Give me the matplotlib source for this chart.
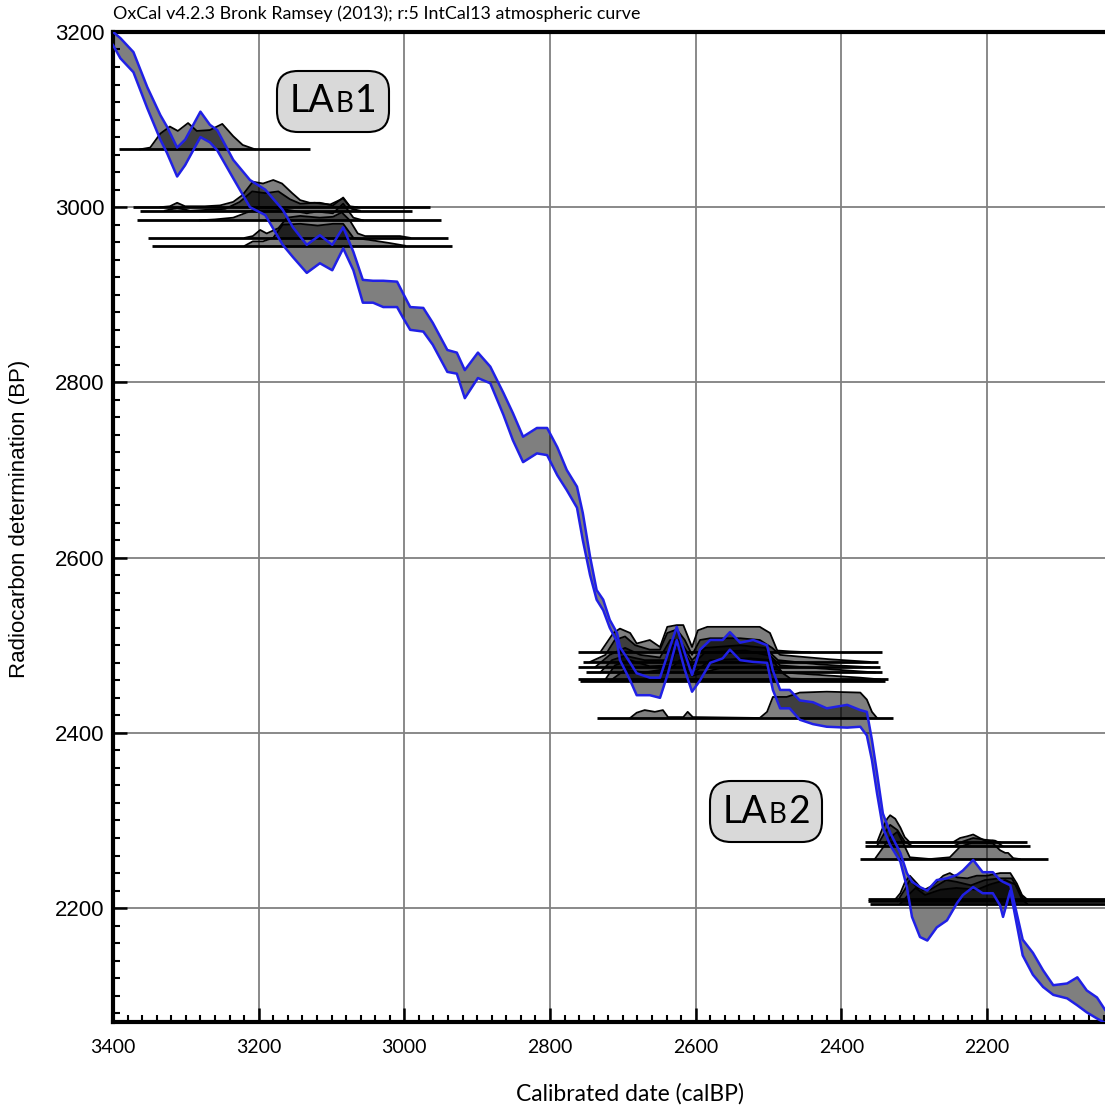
import numpy as np
import matplotlib
matplotlib.use("Agg")
from matplotlib import pyplot as plt
from matplotlib.ticker import MultipleLocator
from matplotlib.offsetbox import TextArea, HPacker, AnnotationBbox

# IntCal13 band: calBP vs upper / lower radiocarbon edge (BP)
cal_bp = [3400, 3390, 3372, 3353, 3335, 3326, 3312, 3301, 3280, 3267,
          3257, 3235, 3212, 3191, 3167, 3153, 3134, 3116, 3099, 3084,
          3070, 3057, 3043, 3029, 3010, 3002, 2992, 2974, 2961, 2941,
          2928, 2917, 2899, 2882, 2864, 2851, 2837, 2818, 2804, 2790,
          2777, 2763, 2755, 2745, 2736, 2727, 2718, 2708, 2704, 2690,
          2681, 2663, 2649, 2638, 2626, 2615, 2605, 2594, 2580, 2563,
          2553, 2539, 2521, 2502, 2494, 2484, 2471, 2457, 2439, 2420,
          2392, 2374, 2365, 2358, 2351, 2343, 2333, 2319, 2310, 2303,
          2292, 2282, 2269, 2255, 2241, 2233, 2219, 2206, 2192, 2182,
          2178, 2168, 2151, 2137, 2123, 2109, 2090, 2076, 2063, 2049, 2038]
c14_hi = [3200, 3193, 3177, 3137, 3105, 3092, 3068, 3077, 3109, 3094,
          3088, 3054, 3031, 3020, 2997, 2977, 2957, 2968, 2957, 2977,
          2949, 2917, 2916, 2916, 2915, 2902, 2886, 2885, 2868, 2837,
          2834, 2814, 2834, 2818, 2788, 2765, 2738, 2748, 2748, 2726,
          2700, 2681, 2651, 2601, 2563, 2552, 2529, 2514, 2498, 2480,
          2468, 2463, 2463, 2491, 2521, 2491, 2466, 2495, 2506, 2506,
          2515, 2503, 2506, 2500, 2471, 2449, 2449, 2437, 2435, 2428,
          2432, 2426, 2424, 2392, 2354, 2308, 2286, 2263, 2240, 2230,
          2224, 2220, 2232, 2234, 2238, 2243, 2255, 2241, 2241, 2232,
          2230, 2226, 2164, 2149, 2129, 2112, 2114, 2121, 2106, 2098, 2084]
c14_lo = [3185, 3170, 3154, 3113, 3077, 3062, 3035, 3048, 3080, 3074,
          3065, 3033, 3000, 2991, 2957, 2943, 2925, 2936, 2928, 2953,
          2928, 2891, 2891, 2886, 2886, 2874, 2860, 2858, 2843, 2812,
          2810, 2782, 2805, 2799, 2763, 2734, 2709, 2719, 2717, 2694,
          2677, 2657, 2620, 2580, 2552, 2540, 2520, 2504, 2483, 2460,
          2443, 2443, 2440, 2468, 2506, 2472, 2447, 2460, 2480, 2485,
          2495, 2483, 2481, 2480, 2449, 2428, 2428, 2415, 2410, 2407,
          2406, 2407, 2397, 2369, 2331, 2292, 2272, 2253, 2224, 2190,
          2167, 2163, 2178, 2186, 2206, 2215, 2224, 2217, 2217, 2203,
          2190, 2220, 2146, 2124, 2110, 2101, 2097, 2089, 2081, 2074, 2069]

# LAb1 dates: measured BP, baseline extent, calibrated density outline
lab1_base = [3066, 3000, 2996, 2985, 2965, 2956]
lab1_from = [3392, 3372, 3363, 3367, 3352, 3346]
lab1_to = [3130, 2965, 2990, 2950, 2940, 2935]
lab1_cal = [
    [3363, 3349, 3335, 3322, 3311, 3297, 3285, 3267, 3250, 3235, 3222, 3205],
    [3335, 3322, 3312, 3301, 3274, 3253, 3235, 3222, 3208, 3194, 3180, 3168,
     3154, 3143, 3130, 3116, 3098, 3084, 3075, 3065],
    [3329, 3312, 3294, 3246, 3226, 3209, 3191, 3173, 3157, 3143, 3123, 3102,
     3084, 3072, 3061],
    [3281, 3260, 3235, 3216, 3198, 3178, 3153, 3134, 3120, 3098, 3084, 3070,
     3057],
    [3219, 3208, 3198, 3189, 3173, 3161, 3143, 3116, 3098, 3086, 3075, 3064,
     3054, 3006, 2992],
    [3219, 3208, 3194, 3180, 3167, 3143, 3119, 3098, 3084, 3070, 3051, 3020,
     2999],
]
lab1_h = [
    [0, 2, 18, 26, 21, 30, 21, 22, 29, 15, 5, 0],
    [0, 1, 5, 1, 1, 2, 6, 14, 29, 27, 31, 27, 16, 8, 5, 5, 2, 11, 1, 0],
    [0, 3, 0, 2, 10, 22, 20, 22, 13, 8, 9, 7, 14, 2, 0],
    [0, 1, 3, 9, 15, 14, 11, 8, 10, 8, 19, 3, 0],
    [0, 2, 9, 5, 11, 23, 25, 23, 24, 29, 20, 5, 2, 2, 0],
    [0, 5, 5, 9, 24, 25, 23, 25, 25, 9, 7, 3, 0],
]

# LAb2 dates on the Hallstatt plateau
lab2_base = [2492, 2481, 2475, 2469, 2461, 2459, 2417]
lab2_from = [2762, 2755, 2762, 2751, 2762, 2759, 2736]
lab2_to = [2344, 2350, 2347, 2344, 2336, 2340, 2329]
lab2_cal = [
    [2731, 2713, 2704, 2690, 2681, 2663, 2649, 2639, 2626, 2617, 2605, 2597,
     2584, 2539, 2512, 2498, 2488, 2471, 2443],
    [2745, 2724, 2711, 2697, 2683, 2663, 2649, 2639, 2626, 2615, 2605, 2594,
     2580, 2539, 2512, 2495, 2484, 2457, 2416, 2361],
    [2738, 2718, 2697, 2676, 2649, 2635, 2622, 2605, 2587, 2539, 2505, 2487,
     2429, 2361],
    [2731, 2715, 2697, 2670, 2642, 2633, 2619, 2605, 2587, 2532, 2498, 2484,
     2388, 2354],
    [2724, 2711, 2690, 2663, 2635, 2627, 2613, 2602, 2580, 2525, 2495, 2481,
     2374, 2347],
    [2718, 2697, 2670, 2633, 2622, 2605, 2567, 2512, 2487, 2470, 2347],
    [2690, 2681, 2670, 2656, 2645, 2638, 2617, 2611, 2604, 2512, 2502, 2494,
     2475, 2457, 2420, 2374, 2365, 2358, 2351],
]
lab2_h = [
    [0, 22, 27, 22, 10, 14, 6, 29, 31, 31, 6, 25, 29, 29, 29, 22, 2, 1, 0],
    [0, 8, 25, 29, 19, 14, 14, 33, 37, 25, 8, 25, 27, 27, 25, 16, 8, 6, 3, 0],
    [0, 14, 22, 14, 11, 31, 31, 8, 22, 25, 22, 8, 3, 0],
    [0, 14, 19, 14, 14, 31, 27, 8, 23, 25, 19, 8, 2, 0],
    [0, 16, 22, 15, 16, 33, 27, 8, 22, 24, 22, 8, 2, 0],
    [0, 13, 10, 15, 24, 6, 15, 17, 13, 3, 0],
    [0, 6, 9, 7, 9, 1, 1, 7, 1, 0, 7, 24, 24, 29, 30, 29, 21, 7, 0],
]

# later dates near 2300-2150 calBP
lab3_base = [2275, 2271, 2256, 2210, 2208, 2205]
lab3_from = [2368, 2368, 2374, 2363, 2363, 2361]
lab3_to = [2145, 2141, 2116, 2000, 2000, 2000]
lab3_cal = [
    [2351, 2344, 2337, 2333, 2326, 2319, 2313, 2306, 2247, 2237, 2227, 2219,
     2210, 2200, 2192, 2182],
    [2351, 2342, 2333, 2323, 2313, 2303, 2245, 2233, 2219, 2203, 2189, 2179],
    [2354, 2342, 2333, 2323, 2315, 2306, 2278, 2251, 2237, 2219, 2192, 2182,
     2175, 2171, 2164, 2155],
    [2326, 2319, 2313, 2306, 2296, 2288, 2274, 2260, 2251, 2241, 2227, 2214,
     2200, 2182, 2168, 2159, 2152, 2145],
    [2323, 2313, 2306, 2295, 2278, 2256, 2242, 2222, 2203, 2182, 2166, 2155,
     2148],
    [2319, 2308, 2298, 2285, 2264, 2242, 2214, 2196, 2175, 2161, 2152, 2145],
]
lab3_h = [
    [0, 15, 27, 31, 27, 17, 6, 0, 0, 5, 7, 9, 5, 1, 2, 0],
    [0, 13, 24, 18, 5, 0, 0, 5, 9, 7, 6, 0],
    [0, 14, 25, 31, 18, 2, 0, 2, 14, 19, 18, 10, 7, 7, 1, 0],
    [0, 7, 19, 27, 18, 10, 16, 27, 30, 25, 24, 27, 27, 30, 30, 18, 5, 0],
    [0, 13, 24, 15, 13, 24, 22, 18, 24, 26, 26, 10, 0],
    [0, 10, 18, 10, 16, 18, 16, 22, 27, 22, 5, 0],
]

title = "OxCal v4.2.3 Bronk Ramsey (2013); r:5 IntCal13 atmospheric curve"
cal_font = "Lato"

fig = plt.figure(figsize=(11.05, 11.05), dpi=100)
ax = fig.add_axes([0.1023, 0.0751, 0.8977, 0.896])

ax.fill_between(cal_bp, c14_lo, c14_hi, color="k", alpha=0.5, lw=0, zorder=2)

for bases, x0s, x1s, xss, hss in [(lab1_base, lab1_from, lab1_to, lab1_cal, lab1_h),
                                  (lab2_base, lab2_from, lab2_to, lab2_cal, lab2_h),
                                  (lab3_base, lab3_from, lab3_to, lab3_cal, lab3_h)]:
    for base, x0, x1, xs, hs in zip(bases, x0s, x1s, xss, hss):
        top = base + np.array(hs)
        ax.fill_between(xs, base, top, color="k", alpha=0.5, lw=0, zorder=3)
        ax.plot(xs, top, color="k", lw=1.3, zorder=4, solid_joinstyle="round")
        ax.plot([x0, x1], [base, base], color="k", lw=2, zorder=4,
                solid_capstyle="butt")

ax.plot(cal_bp, c14_hi, color="#2020e6", lw=1.8, zorder=5, solid_joinstyle="round")
ax.plot(cal_bp, c14_lo, color="#2020e6", lw=1.8, zorder=5, solid_joinstyle="round")


def lab_box(num, x, y):
    parts = [TextArea("LA", textprops=dict(fontsize=27, family=cal_font)),
             TextArea("B", textprops=dict(fontsize=20, family=cal_font)),
             TextArea(num, textprops=dict(fontsize=27, family=cal_font))]
    pack = HPacker(children=parts, align="baseline", pad=0, sep=1)
    ab = AnnotationBbox(pack, (x, y), xycoords="data", frameon=True,
                        bboxprops=dict(boxstyle="round,pad=0.9,rounding_size=1.5",
                                       fc="#d9d9d9", ec="k", lw=1.5),
                        zorder=6)
    ax.add_artist(ab)


lab_box("1", 3098, 3121)
lab_box("2", 2503, 2310)

ax.set_xlim(3400, 2038)
ax.set_ylim(2070, 3200)
ax.xaxis.set_major_locator(MultipleLocator(200))
ax.xaxis.set_minor_locator(MultipleLocator(20))
ax.yaxis.set_major_locator(MultipleLocator(200))
ax.yaxis.set_minor_locator(MultipleLocator(20))
ax.grid(which="major", color="#808080", lw=1.3)
ax.set_axisbelow(True)

for s in ["left", "top", "bottom"]:
    ax.spines[s].set_linewidth(3)
ax.spines["right"].set_visible(False)
ax.tick_params(which="both", direction="in", top=False, right=False)
ax.tick_params(which="major", length=10, width=1.8)
ax.tick_params(which="minor", length=5, width=1.5)
ax.tick_params(axis="x", labelsize=14, labelfontfamily=cal_font, pad=12)
ax.tick_params(axis="y", labelsize=16, labelfontfamily="Liberation Sans", pad=6)

ax.set_title(title, loc="left", fontsize=12.9, family=cal_font, pad=9)
ax.set_xlabel("Calibrated date (calBP)", fontsize=16.5, family=cal_font)
ax.xaxis.set_label_coords(0.521, -0.0616)
ax.set_ylabel("Radiocarbon determination (BP)", fontsize=16, family="Liberation Sans")
ax.yaxis.set_label_coords(-0.084, 0.508)

fig.savefig("out.png", dpi=100)
